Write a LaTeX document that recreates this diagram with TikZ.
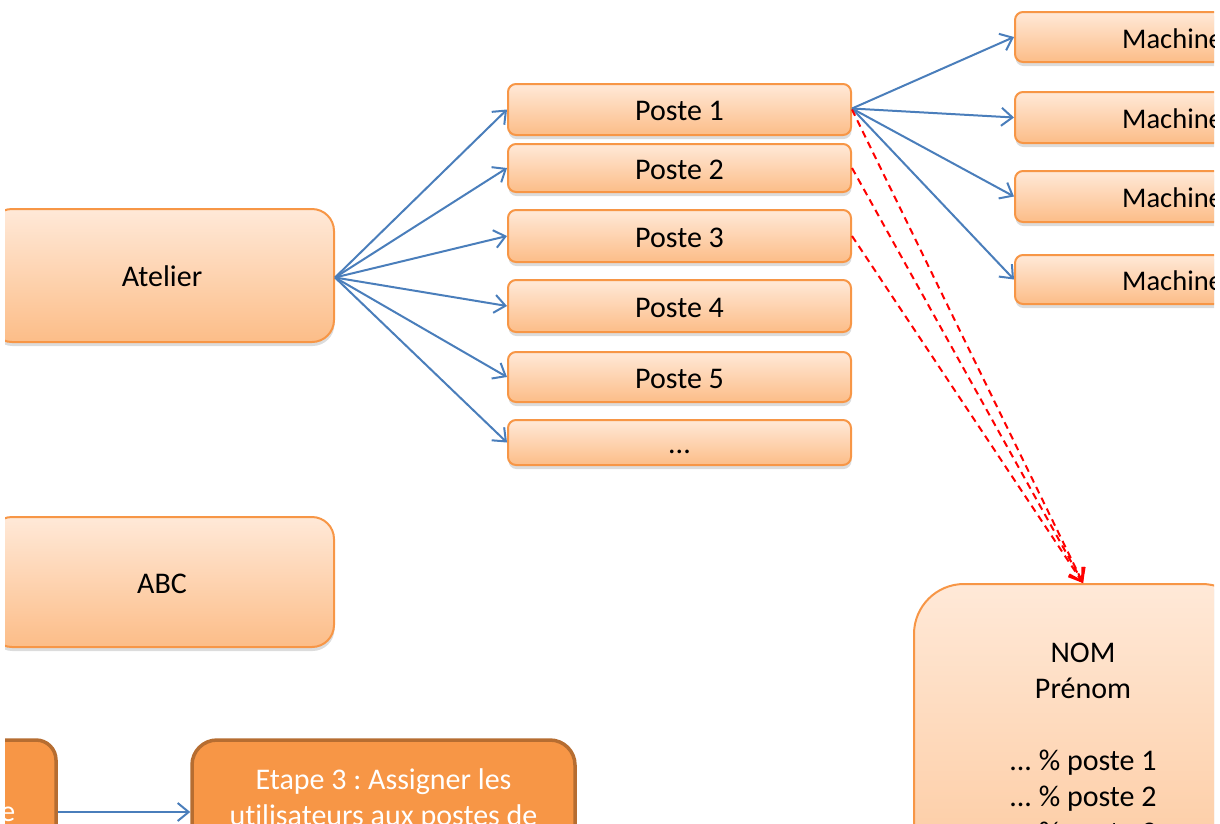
\documentclass[tikz,border=0pt]{standalone}
\usepackage{fontspec}
\setmainfont{Carlito}[Ligatures=NoCommon]
\usetikzlibrary{arrows.meta,shadows,calc}
\definecolor{ora}{HTML}{F79646}
\definecolor{otop}{HTML}{FFE9D8}
\definecolor{obot}{HTML}{FCBD88}
\definecolor{dkora}{HTML}{B66D31}
\definecolor{conn}{HTML}{4A7EBB}
\definecolor{redc}{HTML}{FF0000}
\frenchspacing
\begin{document}
\begin{tikzpicture}[x=1pt,y=-1pt,
  box/.style={draw=ora, line width=2pt, top color=otop, bottom color=obot,
    rounded corners=#1, inner sep=0pt, text height=22pt, text depth=0pt,
    font=\fontsize{30}{36}\selectfont,
    drop shadow={shadow xshift=0.5pt, shadow yshift=-4pt, opacity=0.28}},
  box/.default=8pt,
  darkbox/.style={draw=dkora, line width=3.5pt, fill=ora, rounded corners=#1,
    drop shadow={shadow xshift=0.5pt, shadow yshift=-4pt, opacity=0.28}},
  darkbox/.default=22pt,
  lbl/.style={inner sep=0pt, font=\fontsize{30}{36}\selectfont},
  mlbl/.style={inner sep=0pt, font=\fontsize{28.5}{36}\selectfont},
  wlbl/.style={lbl, text=white},
  bar/.style={draw=conn, line width=2pt, -{Straight Barb[length=11pt,width=18pt]}},
  rdash/.style={draw=redc, line width=2pt, dash pattern=on 7pt off 5pt,
    -{Straight Barb[length=12pt,width=17pt]}},
]
\useasboundingbox (0,0) rectangle (1220,823);
\clip (5,0) rectangle (1214,823);

% left boxes
\node[box=22pt, minimum width=344pt, minimum height=133pt] (at) at (162,275.5) {Atelier};
\node[box=22pt, minimum width=344pt, minimum height=130pt] (abc) at (162,582) {ABC};

% postes
\node[box, minimum width=343pt, minimum height=51pt] (p1) at (679.5,109.5) {Poste 1};
\node[box, minimum width=343pt, minimum height=48pt] (p2) at (679.5,168) {Poste 2};
\node[box, minimum width=343pt, minimum height=52pt] (p3) at (679.5,236) {Poste 3};
\node[box, minimum width=343pt, minimum height=52pt] (p4) at (679.5,306) {Poste 4};
\node[box, minimum width=343pt, minimum height=50pt] (p5) at (679.5,377) {Poste 5};
\node[box, minimum width=343pt, minimum height=45pt] (p6) at (679.5,442.5) {...};

% machines
\node[box, minimum width=340pt, minimum height=50pt] (m1) at (1185,37) {};
\node[box, minimum width=340pt, minimum height=51pt] (m2) at (1185,117.5) {};
\node[box, minimum width=340pt, minimum height=51pt] (m3) at (1185,196.5) {};
\node[box, minimum width=340pt, minimum height=49pt] (m4) at (1185,279.5) {};
\node[mlbl, anchor=base west] (m1t) at (1122,48) {Machine};
\node[mlbl, anchor=base west] (m2t) at (1122,128.5) {Machine};
\node[mlbl, anchor=base west] (m3t) at (1122,207.5) {Machine};
\node[mlbl, anchor=base west] (m4t) at (1122,290.5) {Machine};

% NOM box
\node[box=50pt, minimum width=338pt, minimum height=420pt] (nom) at (1083,794) {};
\node[lbl, anchor=base] (n1) at (1083,662) {NOM};
\node[lbl, anchor=base] (n2) at (1083,698) {Prénom};
\node[lbl, anchor=base] (n3) at (1083,770) {... \% poste 1};
\node[lbl, anchor=base] (n4) at (1083,806) {... \% poste 2};
\node[lbl, anchor=base] (n5) at (1083,842) {... \% poste 3};

% bottom boxes
\node[darkbox=20pt, minimum width=160pt, minimum height=260pt] (e2) at (-24,870) {};
\node[wlbl, anchor=base east] (e2t) at (15.5,821) {e};
\node[darkbox=25pt, minimum width=383pt, minimum height=260pt] (e3) at (383.5,870) {};
\node[wlbl, anchor=base] (e3a) at (383.5,789) {Etape 3 : Assigner les};
\node[wlbl, anchor=base] (e3b) at (383.5,825) {utilisateurs aux postes de};

% connectors
\coordinate (atc) at ($(at.east)+(0,2)$);
\foreach \p in {p1,p2,p3,p4,p5,p6} \draw[bar] (atc) -- (\p.west);
\coordinate (p1c) at ($(p1.east)+(0,-1)$);
\foreach \m in {m1,m2,m3,m4} \draw[bar] (p1c) -- (\m.west);
\foreach \p in {p1,p2,p3} \draw[rdash] (\p.east) -- (nom.north);
\coordinate (e2a) at (e2.east |- 0,812);
\coordinate (e3w) at (e3.west |- 0,812);
\draw[bar] (e2a) -- (e3w);
\end{tikzpicture}
\end{document}
